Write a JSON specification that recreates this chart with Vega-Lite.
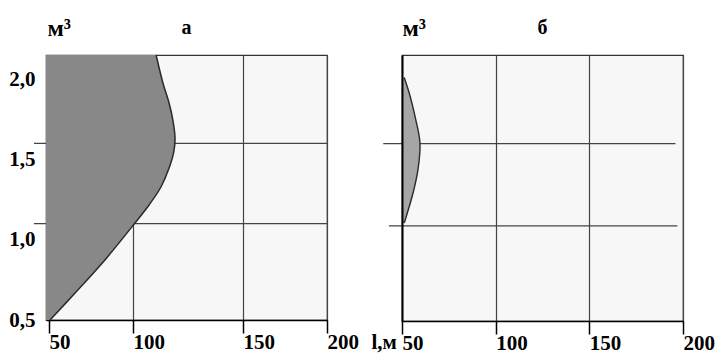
{
  "$schema": "https://vega.github.io/schema/vega-lite/v6.json",
  "background": "white",
  "padding": {"left": 8, "top": 15, "right": 5, "bottom": 5},
  "spacing": 75,
  "bounds": "flush",
  "config": {
    "font": "Liberation Serif",
    "view": {"fill": "#f7f7f7", "stroke": "#333333", "strokeWidth": 1.2},
    "axis": {
      "labelFont": "Liberation Serif", "labelFontSize": 21, "labelFontWeight": "bold", "labelColor": "black",
      "titleFont": "Liberation Serif", "titleFontSize": 24, "titleFontWeight": "bold", "titleColor": "black"
    },
    "title": {"font": "Liberation Serif", "fontSize": 20, "fontWeight": "bold", "color": "black"}
  },
  "hconcat": [
    {
      "width": 281,
      "height": 265,
      "title": {"text": "а", "anchor": "middle", "baseline": "alphabetic", "offset": -38},
      "layer": [
        {
          "data": {"values": [{"v": 1.1}, {"v": 1.6}]},
          "mark": {"type": "rule", "color": "#444444", "strokeWidth": 1.3, "clip": false},
          "encoding": {
            "y": {
              "field": "v", "type": "quantitative",
              "scale": {"domain": [0.5, 2.15], "nice": false, "zero": false},
              "axis": {
                "values": [0.5, 1, 1.5, 2],
                "labelExpr": "replace(format(datum.value, '.1f'), '.', ',')",
                "ticks": false, "domain": false, "grid": false, "labelPadding": 11,
                "title": "м³", "titleAngle": 0, "titleX": 1, "titleY": -20,
                "titleAlign": "left", "titleBaseline": "alphabetic"
              }
            },
            "x": {
              "datum": 41, "type": "quantitative",
              "scale": {"domain": [48.2, 50, 100, 150, 200], "range": [0, 3, 87, 197, 281], "nice": false, "zero": false},
              "axis": {
                "values": [50, 100, 150, 200], "format": "d",
                "tickSize": 13, "tickWidth": 1.5, "tickColor": "black",
                "domainColor": "black", "domainWidth": 1.5,
                "grid": true, "gridColor": "#444444", "gridWidth": 1.2,
                "labelAlign": "left", "labelDx": 3, "labelPadding": -2, "labelBaseline": "top",
                "labelFlush": false, "labelOverlap": false,
                "title": "l,м", "titleX": 325, "titleY": 28, "titleAlign": "left", "titleBaseline": "alphabetic", "titleFontSize": 21
              }
            },
            "x2": {"datum": 200}
          }
        },
        {
          "data": {"values": [
            {"l": 110.5, "v": 2.15}, {"l": 113.6, "v": 1.976}, {"l": 116.4, "v": 1.851},
            {"l": 118.2, "v": 1.739}, {"l": 119.1, "v": 1.633}, {"l": 118.6, "v": 1.552},
            {"l": 116.4, "v": 1.446}, {"l": 112.7, "v": 1.328}, {"l": 107.3, "v": 1.216},
            {"l": 100.9, "v": 1.104}, {"l": 83.3, "v": 0.874}, {"l": 65.5, "v": 0.668},
            {"l": 50.6, "v": 0.5}
          ]},
          "layer": [
            {
              "mark": {"type": "area", "orient": "horizontal", "interpolate": "catmull-rom", "color": "#888888", "opacity": 1},
              "encoding": {
                "y": {"field": "v", "type": "quantitative"},
                "x": {"field": "l", "type": "quantitative"},
                "x2": {"datum": 48.2}
              }
            },
            {
              "mark": {"type": "line", "interpolate": "catmull-rom", "color": "#2a2a2a", "strokeWidth": 1.5},
              "encoding": {
                "y": {"field": "v", "type": "quantitative"},
                "x": {"field": "l", "type": "quantitative"},
                "order": {"field": "v", "type": "quantitative"}
              }
            }
          ]
        }
      ]
    },
    {
      "width": 281,
      "height": 266,
      "title": {"text": "б", "anchor": "middle", "baseline": "alphabetic", "offset": -38},
      "layer": [
        {
          "data": {"values": [{"v": 1.6}]},
          "mark": {"type": "rule", "color": "#444444", "strokeWidth": 1.3, "clip": false},
          "encoding": {
            "y": {
              "field": "v", "type": "quantitative",
              "scale": {"domain": [0.5, 2.15], "nice": false, "zero": false},
              "axis": {
                "labels": false, "ticks": false, "grid": false,
                "domain": true, "domainColor": "black", "domainWidth": 2, "zindex": 1,
                "title": "м³", "titleAngle": 0, "titleX": 0, "titleY": -20,
                "titleAlign": "left", "titleBaseline": "alphabetic"
              }
            },
            "x": {
              "datum": 40, "type": "quantitative",
              "scale": {"domain": [50, 200], "nice": false, "zero": false},
              "axis": {
                "values": [50, 100, 150, 200], "format": "d",
                "tickSize": 13, "tickWidth": 1.5, "tickColor": "black",
                "domainColor": "black", "domainWidth": 1.5,
                "grid": true, "gridColor": "#444444", "gridWidth": 1.2,
                "labelAlign": "left", "labelDx": 1, "labelPadding": -2, "labelBaseline": "top",
                "labelFlush": false, "labelOverlap": false,
                "title": null
              }
            },
            "x2": {"datum": 196}
          }
        },
        {
          "data": {"values": [{"v": 1.09}]},
          "mark": {"type": "rule", "color": "#444444", "strokeWidth": 1.3, "clip": false},
          "encoding": {
            "y": {"field": "v", "type": "quantitative"},
            "x": {"datum": 43, "type": "quantitative"},
            "x2": {"datum": 197}
          }
        },
        {
          "data": {"values": [
            {"l": 51.2, "v": 2.01}, {"l": 54.3, "v": 1.896}, {"l": 56.9, "v": 1.772},
            {"l": 59.6, "v": 1.604}, {"l": 58.5, "v": 1.437}, {"l": 55.9, "v": 1.294},
            {"l": 51.2, "v": 1.108}
          ]},
          "layer": [
            {
              "mark": {"type": "area", "orient": "horizontal", "interpolate": "catmull-rom", "color": "#a6a6a6", "opacity": 1},
              "encoding": {
                "y": {"field": "v", "type": "quantitative"},
                "x": {"field": "l", "type": "quantitative"},
                "x2": {"datum": 50}
              }
            },
            {
              "mark": {"type": "line", "interpolate": "catmull-rom", "color": "#2a2a2a", "strokeWidth": 1.4},
              "encoding": {
                "y": {"field": "v", "type": "quantitative"},
                "x": {"field": "l", "type": "quantitative"},
                "order": {"field": "v", "type": "quantitative"}
              }
            }
          ]
        }
      ]
    }
  ]
}
